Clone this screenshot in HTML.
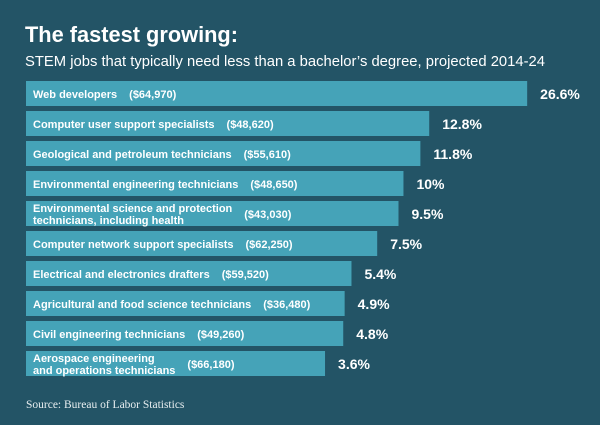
<!DOCTYPE html>
<html><head><meta charset="utf-8"><style>
body{margin:0;width:600px;height:420px;background:#235466;overflow:hidden;font-family:"Liberation Sans",sans-serif;color:#fff}
</style></head><body>
<svg width="600" height="420">
<text x="25" y="42" font-size="22.5" font-weight="bold" fill="#fff" textLength="213" lengthAdjust="spacingAndGlyphs">The fastest growing:</text>
<text x="25" y="66" font-size="15" fill="#fff" textLength="520" lengthAdjust="spacingAndGlyphs">STEM jobs that typically need less than a bachelor’s degree, projected 2014-24</text>
<g id="bars"></g>
<text x="26" y="408" font-size="11.5" fill="#e8eef0" font-family="Liberation Serif, serif">Source: Bureau of Labor Statistics</text>
</svg>
<script>
const jobs1=["Web developers","Computer user support specialists","Geological and petroleum technicians","Environmental engineering technicians","Environmental science and protection","Computer network support specialists","Electrical and electronics drafters","Agricultural and food science technicians","Civil engineering technicians","Aerospace engineering"];
const jobs2=["","","","","technicians, including health","","","","","and operations technicians"];
const wages=["($64,970)","($48,620)","($55,610)","($48,650)","($43,030)","($62,250)","($59,520)","($36,480)","($49,260)","($66,180)"];
const growth=[26.6,12.8,11.8,10,9.5,7.5,5.4,4.9,4.8,3.6];
const growthLabels=["26.6%","12.8%","11.8%","10%","9.5%","7.5%","5.4%","4.9%","4.8%","3.6%"];
const NS="http://www.w3.org/2000/svg";
const g=document.getElementById('bars');
const X0=26;
function xScale(v){return 207.4+62*Math.sqrt(v);}
function yScale(i){return 81+i*30;}
const ctx=document.createElement('canvas').getContext('2d');
ctx.font='bold 11px "Liberation Sans"';
growth.forEach((v,i)=>{
  const y=yScale(i), xe=xScale(v);
  const r=document.createElementNS(NS,'rect');
  r.setAttribute('x',X0);r.setAttribute('y',y);r.setAttribute('width',xe-X0);r.setAttribute('height',25);r.setAttribute('fill','#45a3b8');
  
  
  g.appendChild(r);
  const two=jobs2[i]!=="";
  const t=document.createElementNS(NS,'text');
  t.setAttribute('x',33);t.setAttribute('font-size','11');t.setAttribute('font-weight','bold');t.setAttribute('fill','#fff');
  
  
  if(two){
    const a=document.createElementNS(NS,'tspan');a.setAttribute('x',33);a.setAttribute('y',y+11);a.textContent=jobs1[i];
    const b=document.createElementNS(NS,'tspan');b.setAttribute('x',33);b.setAttribute('y',y+23);b.textContent=jobs2[i];
    t.appendChild(a);t.appendChild(b);
  } else {t.setAttribute('y',y+17);t.textContent=jobs1[i];}
  g.appendChild(t);
  let lw=two?Math.max(ctx.measureText(jobs1[i]).width,ctx.measureText(jobs2[i]).width):ctx.measureText(jobs1[i]).width;
  const w=document.createElementNS(NS,'text');
  w.setAttribute('x',33+lw+12);w.setAttribute('y',y+17);w.setAttribute('font-size','11');w.setAttribute('font-weight','bold');w.setAttribute('fill','#fff');
  w.textContent=wages[i];
  
  
  g.appendChild(w);
  const p=document.createElementNS(NS,'text');
  p.setAttribute('x',xe+13);p.setAttribute('y',y+18);p.setAttribute('font-size','14');p.setAttribute('font-weight','bold');p.setAttribute('fill','#fff');
  p.textContent=growthLabels[i];
  
  
  g.appendChild(p);
});
</script>
</body></html>
